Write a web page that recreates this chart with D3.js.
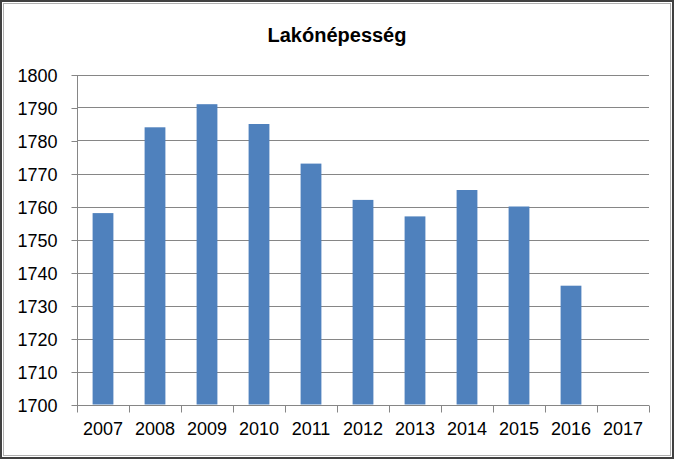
<!DOCTYPE html>
<html><head><meta charset="utf-8">
<script src="https://cdn.jsdelivr.net/npm/d3@7"></script>
<style>body{margin:0;background:#fff}svg{display:block}</style>
</head><body>
<svg id="c" width="674" height="459"></svg>
<script>
const title = "Lakónépesség";
const years = ["2007","2008","2009","2010","2011","2012","2013","2014","2015","2016","2017"];
const values = [1758,1784,1791,1785,1773,1762,1757,1765,1760,1736,null];
const yTicks = [1700,1710,1720,1730,1740,1750,1760,1770,1780,1790,1800];

const svg = d3.select("#c");
const W = 674, H = 459;
const m = {left:77, right:25, top:74.5, bottom:54.5};
const font = "'Liberation Sans', Arial, sans-serif";

svg.append("rect").attr("x",0).attr("y",0).attr("width",W).attr("height",H).attr("fill","#fff");

const x = d3.scaleBand().domain(years).range([m.left, W - m.right]).paddingInner(0.6).paddingOuter(0.3);
const xb = d3.scaleBand().domain(years).range([m.left, W - m.right]);
const y = d3.scaleLinear().domain([1700,1800]).range([H - m.bottom, m.top]);

// gridlines
svg.append("g").selectAll("line").data(yTicks.slice(1)).join("line")
  .attr("x1", m.left).attr("x2", W - m.right)
  .attr("y1", d => Math.round(y(d)) + 0.5).attr("y2", d => Math.round(y(d)) + 0.5)
  .attr("stroke", "#868686").attr("stroke-width", 1);

// bars
svg.append("g").selectAll("rect").data(years.map((d,i)=>({k:d,v:values[i]})).filter(d=>d.v!=null)).join("rect")
  .attr("x", d => x(d.k)).attr("width", x.bandwidth())
  .attr("y", d => y(d.v)).attr("height", d => y(1700) - y(d.v))
  .attr("fill", "#4F81BD");

// y axis
const yAxis = d3.axisLeft(y).tickValues(yTicks).tickSize(6).tickPadding(14).tickFormat(d3.format("d"));
const gy = svg.append("g").attr("transform", `translate(${m.left + 0.5},0.5)`).call(yAxis);
gy.select(".domain").attr("stroke", "#868686").attr("d", `M0,${Math.round(y(1800))}V${Math.round(y(1700))}`);
gy.selectAll(".tick line").attr("stroke", "#868686");
gy.selectAll(".tick text").attr("font-family", font).attr("font-size", 18).attr("fill", "#000").attr("dy","0.36em");

// x axis
const xAxis = d3.axisBottom(xb).tickSize(0).tickPadding(17);
const gx = svg.append("g").attr("transform", `translate(0,${Math.round(y(1700)) + 0.5})`).call(xAxis);
gx.select(".domain").attr("stroke", "#868686").attr("d", `M${m.left},0H${W - m.right}`);
gx.selectAll(".tick text").attr("font-family", font).attr("font-size", 18).attr("fill", "#000");
// boundary tick marks
const bounds = years.map(d => xb(d)).concat([xb(years[years.length-1]) + xb.bandwidth()]);
gx.append("g").selectAll("line").data(bounds).join("line")
  .attr("x1", d => Math.round(d) + 0.5).attr("x2", d => Math.round(d) + 0.5)
  .attr("y1", 0).attr("y2", 7).attr("stroke", "#868686");

// title
svg.append("text").attr("x", W/2).attr("y", 42).attr("text-anchor","middle")
  .attr("font-family", font).attr("font-weight","bold").attr("font-size", 20).attr("fill","#000").text(title);

// border
svg.append("rect").attr("x",1).attr("y",1).attr("width",W-2).attr("height",H-2)
  .attr("fill","none").attr("stroke","#404040").attr("stroke-width",2);
svg.append("rect").attr("x",3.5).attr("y",3.5).attr("width",W-7).attr("height",H-7)
  .attr("fill","none").attr("stroke","#b0b0b0").attr("stroke-width",1);
</script>
</body></html>
